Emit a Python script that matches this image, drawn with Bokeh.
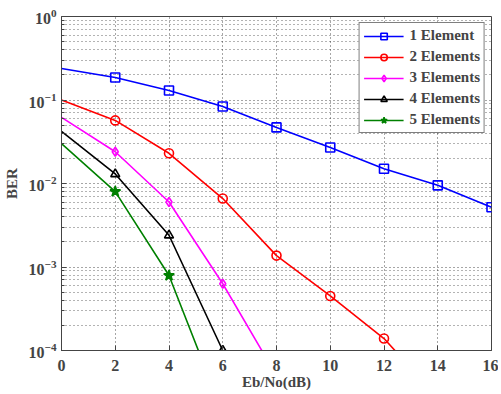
import numpy as np
from bokeh.plotting import figure
from bokeh.models import FixedTicker, Legend, LegendItem, Range1d
from bokeh.embed import file_html
from bokeh.resources import INLINE

# ---- data ----
snr = [0, 2, 4, 6, 8, 10, 12, 14, 16]
ber1 = [0.238, 0.186, 0.130, 0.0836, 0.047, 0.027, 0.015, 0.0095, 0.0052]
snr2 = [0, 2, 4, 6, 8, 10, 12, 14]
ber2 = [0.100, 0.057, 0.023, 0.0066, 0.00137, 0.00045, 0.000139, 0.0000275]
snr3 = [0, 2, 4, 6, 8]
ber3 = [0.062, 0.024, 0.0060, 0.00063, 0.00005]
snr4 = [0, 2, 4, 6, 8]
ber4 = [0.042, 0.013, 0.0024, 0.0001, 0.000005]
snr5 = [0, 2, 4, 6]
ber5 = [0.030, 0.0080, 0.00079, 0.000018]

labels = ["1 Element", "2 Elements", "3 Elements", "4 Elements", "5 Elements"]
colors = ["#0000ff", "#ff0000", "#ff00ff", "#000000", "#008000"]
markers = ["square", "circle", "diamond", "triangle", "star"]
marker_x = [[2, 4, 6, 8, 10, 12, 14, 16], [2, 4, 6, 8, 10, 12], [2, 4, 6], [2, 4, 6], [2, 4]]

FONT = "Liberation Serif"

p = figure(width=498, height=394, y_axis_type="log",
           x_range=Range1d(0, 16), y_range=Range1d(1e-4, 1),
           output_backend="svg", toolbar_location=None,
           min_border_left=60, min_border_top=16, min_border_right=7, min_border_bottom=44)

series = [(snr, ber1), (snr2, ber2), (snr3, ber3), (snr4, ber4), (snr5, ber5)]
items = []
for (xs, ys), lab, col, mk, mx in zip(series, labels, colors, markers, marker_x):
    lr = p.line(xs, ys, line_color=col, line_width=1.6)
    my = [ys[xs.index(v)] for v in mx]
    fill = col if mk == "star" else None
    sr = p.scatter(mx, my, marker=mk, size=9 if mk != "star" else 11, line_color=col,
                   line_width=1.6, fill_color=fill)
    items.append(LegendItem(label=lab, renderers=[lr, sr]))

legend = Legend(items=items, location="top_right",
                label_text_font=FONT, label_text_font_style="bold", label_text_font_size="15px",
                border_line_color="black", border_line_width=1, background_fill_alpha=1,
                glyph_width=40, glyph_height=16, spacing=4, padding=4, margin=6,
                label_standoff=6)
p.add_layout(legend)

# axes
p.xaxis.ticker = FixedTicker(ticks=list(range(0, 17, 2)))
yt = [1e-4, 1e-3, 1e-2, 1e-1, 1]
ym = [m * 10.0 ** e for e in range(-4, 0) for m in range(2, 10)]
p.yaxis.ticker = FixedTicker(ticks=yt, minor_ticks=ym)

for ax in (p.xaxis, p.yaxis):
    ax.major_label_text_font = FONT
    ax.major_label_text_font_style = "bold"
    ax.major_label_text_font_size = "16px"
    ax.axis_label_text_font = FONT
    ax.axis_label_text_font_style = "bold"
    ax.axis_label_text_font_size = "15px"
    ax.major_tick_out = 0
    ax.major_tick_in = 5
    ax.minor_tick_out = 0
    ax.minor_tick_in = 3
    ax.axis_line_color = "#444444"
    ax.major_tick_line_color = "#444444"
    ax.minor_tick_line_color = "#444444"
p.xaxis.axis_label = "Eb/No(dB)"
p.yaxis.axis_label = "BER"
p.xaxis.major_label_standoff = 9
p.yaxis.major_label_standoff = 5
p.xaxis.axis_label_standoff = 0
p.yaxis.axis_label_standoff = 6

p.xgrid.grid_line_color = "black"
p.xgrid.grid_line_dash = "1 3"
p.xgrid.grid_line_alpha = 0.7
p.ygrid.grid_line_color = "black"
p.ygrid.grid_line_dash = "1 3"
p.ygrid.grid_line_alpha = 0.7
p.ygrid.minor_grid_line_color = "black"
p.ygrid.minor_grid_line_dash = "1 3"
p.ygrid.minor_grid_line_alpha = 0.6

p.outline_line_color = "#444444"
p.outline_line_width = 1

open("out.html", "w").write(file_html(p, INLINE))
